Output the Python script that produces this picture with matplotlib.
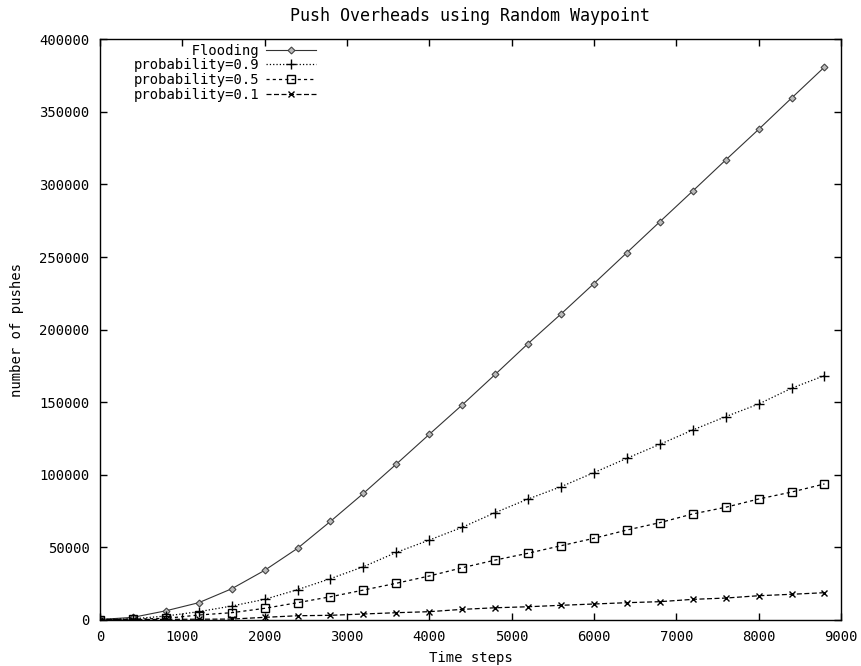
import matplotlib
matplotlib.use('Agg')
import matplotlib.pyplot as plt

# time steps sampled every 400
steps = [0, 400, 800, 1200, 1600, 2000, 2400, 2800, 3200, 3600, 4000, 4400,
         4800, 5200, 5600, 6000, 6400, 6800, 7200, 7600, 8000, 8400, 8800]

flooding = [0, 1500, 6000, 11600, 21200, 33900, 49100, 67700, 87000, 107200,
            127700, 148000, 169000, 190300, 210700, 231700, 253000, 274300,
            295500, 316900, 338000, 359600, 381000]
prob_09 = [0, 500, 2400, 5400, 9300, 13900, 20600, 28200, 36400, 46300,
           54800, 63600, 73700, 83100, 91600, 101300, 111200, 120800,
           130700, 139900, 148600, 159500, 168200]
prob_05 = [0, 200, 800, 3100, 4700, 7700, 11600, 15700, 20300, 25000,
           30000, 35700, 41000, 45700, 50900, 56000, 61700, 66800, 72800,
           77400, 83100, 87900, 93500]
prob_01 = [0, 0, 100, 200, 300, 1500, 2600, 2900, 3800, 4700, 5400, 7000,
           8100, 8800, 9800, 10700, 11600, 12300, 13900, 14800, 16400,
           17400, 18500]

labels = ['Flooding', 'probability=0.9', 'probability=0.5', 'probability=0.1']

plt.rcParams['font.family'] = 'DejaVu Sans Mono'
plt.rcParams['font.size'] = 10

fig = plt.figure(figsize=(8.61, 6.66), dpi=100)
ax = fig.add_axes([0.1161, 0.0698, 0.8606, 0.8709])

width = max(len(s) for s in labels)
padded = [s.rjust(width) for s in labels]

ax.plot(steps, flooding, color='#333333', lw=0.8, marker='D', ms=3.5,
        mfc='#bbbbbb', mec='#444444', mew=0.8, label=padded[0])
ax.plot(steps, prob_09, color='black', lw=0.9, ls=':', marker='+', ms=6.5,
        mew=1.0, label=padded[1])
ax.plot(steps, prob_05, color='black', lw=0.9, ls=(0, (2.5, 2.5)), marker='s',
        ms=5.5, mfc='none', mec='black', mew=1.0, label=padded[2])
ax.plot(steps, prob_01, color='black', lw=0.9, ls=(0, (4, 2)), marker='x',
        ms=5, mew=1.0, label=padded[3])

ax.set_xlim(0, 9000)
ax.set_ylim(0, 400000)
ax.set_xticks(range(0, 9001, 1000))
ax.set_yticks(range(0, 400001, 50000))
ax.tick_params(direction='in', length=5, width=1, top=True, right=True,
               pad=7.5, color='black')
for sp in ax.spines.values():
    sp.set_linewidth(1)
    sp.set_color('black')

ax.set_title('Push Overheads using Random Waypoint', pad=13)
ax.set_xlabel('Time steps', labelpad=5)
ax.set_ylabel('number of pushes', labelpad=11)

leg = ax.legend(loc='upper left', bbox_to_anchor=(0.03, 1.012), frameon=False,
                markerfirst=False, handlelength=3.6, handletextpad=0.5,
                labelspacing=0.05, borderpad=0.3)

fig.savefig('out.png', dpi=100)
